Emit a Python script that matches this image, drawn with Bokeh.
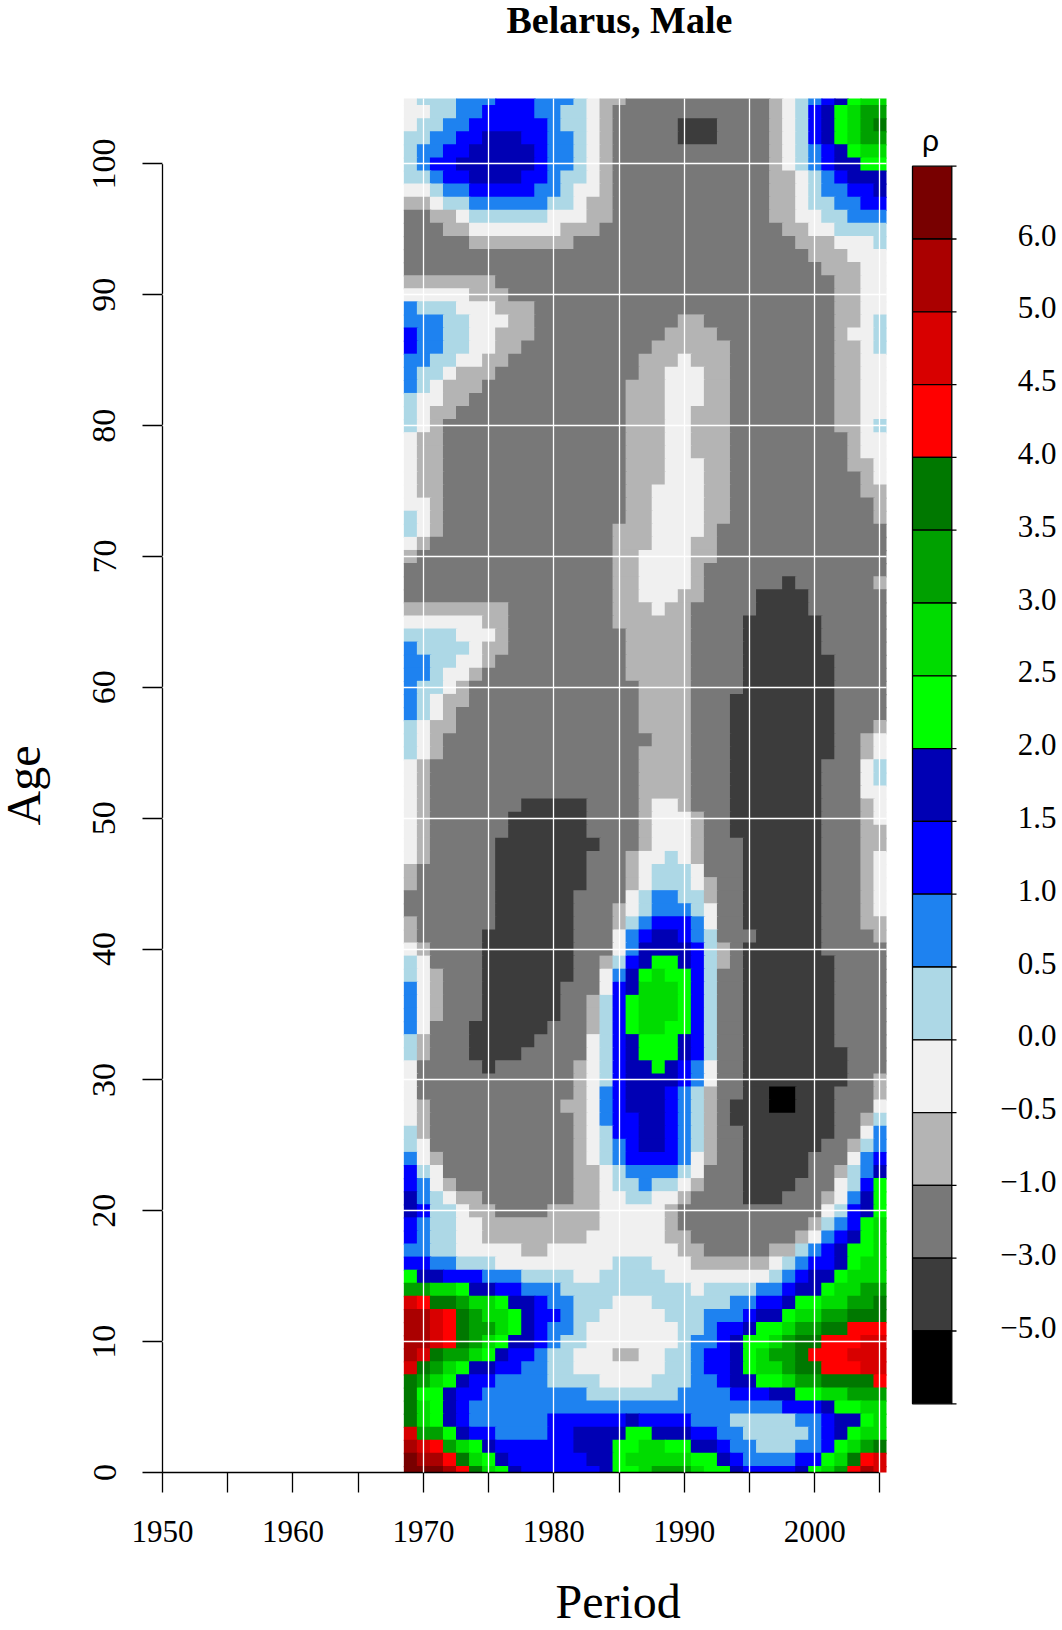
from bokeh.plotting import figure
from bokeh.layouts import row
from bokeh.models import ColumnDataSource, FixedTicker, Range1d, Title
from bokeh.core.properties import value
from bokeh.embed import file_html
from bokeh.resources import INLINE

# rho class of every cell: run-length strings (class letter + run length), one per age, 1969..2005
AGES_105_TO_80 = [
"w1 l3 m3 b3 m3 l1 w1 s2 g11 s1 w1 l1 m1 b1 n1 G1 H2",
"w2 l2 m2 b4 m2 l2 w1 s1 g12 s1 w1 l1 b1 n1 G1 H1 I2",
"w1 l2 m2 b6 m1 l2 w1 s1 g5 d3 g4 s1 w1 l1 b1 n1 G1 H1 I1 J1",
"l2 m2 b2 n3 b2 m2 l1 w1 s1 g5 d3 g4 s1 w1 l1 b1 n1 G1 H1 I2",
"l1 m2 b2 n5 b1 m2 l1 w1 s1 g12 s1 w1 l1 m1 b1 n1 G1 H2",
"l1 m1 b2 n6 b1 m2 l1 w1 s1 g12 s1 w1 l1 m1 b1 n2 G2",
"l2 m1 b2 n4 b2 m1 l2 w1 s1 g12 s2 w1 l1 m1 b1 n3",
"w2 l1 m2 b5 m2 l1 w2 s1 g12 s2 w1 l1 m2 b2 n1",
"s2 w1 l2 m6 l2 w1 s2 g12 s2 w1 l2 m2 b2",
"g2 s2 w1 l6 w3 s2 g12 s2 w2 l2 m3",
"g3 s2 w7 s3 g14 s2 w2 l4",
"g5 s8 g17 s3 w3 l1",
"g31 s3 w3",
"g32 s3 w2",
"s7 g26 s2 w2",
"w5 s3 g25 s2 w2",
"m1 l3 w3 s3 g23 s2 w2",
"m3 l2 w3 s2 g11 s2 g10 s2 w1 l1",
"b1 m2 l2 w2 s3 g10 s4 g9 s1 w2 l1",
"b1 m2 l2 w2 s2 g10 s6 g8 s2 w1 l1",
"m2 l2 w2 s2 g10 s3 w1 s3 g8 s2 w2",
"m1 l2 w1 s3 g11 s2 w3 s2 g8 s2 w2",
"m1 l1 w1 s3 g11 s3 w3 s2 g8 s2 w2",
"l1 w2 s2 g12 s3 w3 s2 g8 s2 w2",
"l1 w1 s2 g13 s3 w2 s3 g8 s2 w2",
"l1 w1 s1 g14 s3 w2 s3 g8 s2 w1 l1",
]
AGES_79_TO_53 = [
"w1 s2 g14 s3 w2 s3 g9 s1 w2",
"w1 s2 g14 s3 w2 s3 g9 s1 w2",
"w1 s2 g14 s3 w3 s2 g9 s2 w1",
"w1 s2 g14 s3 w3 s2 g10 s1 w1",
"w1 s2 g14 s2 w4 s2 g10 s2",
"w2 s1 g14 s2 w4 s2 g11 s1",
"l1 w1 s1 g14 s2 w4 s2 g11 s1",
"l1 w1 s1 g13 s3 w4 s1 g13",
"w1 s1 g14 s3 w3 s2 g13",
"s1 g15 s2 w4 s2 g13",
"g16 s2 w4 s1 g14",
"g16 s2 w4 s1 g6 d1 g6 s1",
"g16 s2 w3 s2 g4 d4 g6",
"s8 g8 s3 w1 s2 g5 d4 g6",
"w6 s2 g8 s6 g4 d6 g5",
"l4 w3 s1 g9 s5 g4 d6 g5",
"m1 l4 w1 s2 g9 s5 g4 d6 g5",
"m2 l2 w2 s1 g10 s5 g4 d7 g4",
"m2 l1 w2 s1 g11 s5 g4 d7 g4",
"m1 l2 w1 s1 g13 s4 g4 d7 g4",
"m1 l1 w1 s2 g13 s4 g3 d8 g4",
"m1 l1 w1 s1 g14 s4 g3 d8 g4",
"l1 w1 s2 g14 s4 g3 d8 g3 s1",
"l1 w1 s1 g16 s3 g3 d8 g2 s1 w1",
"l1 w1 s1 g15 s4 g3 d8 g2 s1 w1",
"w1 s1 g16 s4 g3 d7 g3 w1 l1",
"w1 s1 g16 s4 g3 d7 g3 w1 l1",
]
AGES_52_TO_27 = [
"w1 s1 g16 s4 g3 d7 g3 w2",
"w1 s1 g7 d5 g4 s1 w2 s1 g3 d7 g3 s1 w1",
"w1 s1 g6 d6 g4 s1 w3 s1 g2 d7 g3 s1 w1",
"w1 s1 g6 d6 g4 s1 w3 s1 g2 d7 g3 s2",
"w1 s1 g5 d8 g3 s1 w3 s1 g3 d6 g3 s2",
"w1 s1 g5 d7 g3 s1 w2 l1 w1 s1 g3 d6 g3 s1 w1",
"s1 g6 d7 g3 s1 w1 l3 w1 g3 d6 g3 s1 w1",
"s1 g6 d7 g3 s1 w1 l3 w1 s1 g2 d6 g3 s1 w1",
"g7 d6 g4 w1 l1 m2 l2 s1 g2 d6 g3 s1 w1",
"g7 d6 g3 s1 w1 l1 m3 l1 w1 g2 d6 g3 s1 w1",
"s1 g6 d6 g3 s1 l1 m1 b3 m1 w1 g2 d6 g3 s2",
"s1 g5 d7 g3 w1 m1 b1 n2 b1 m1 l1 g3 d5 g4 s1",
"w1 s1 g4 d7 g3 w1 m1 n4 b1 l1 s1 g1 d6 g5",
"l1 w1 g4 d7 g2 s1 l1 b1 n1 G2 n1 b1 l1 s1 g1 d7 g4",
"l1 w1 s1 g3 d7 g2 w1 m1 n1 G1 H1 G2 b1 l1 g2 d7 g4",
"m1 w1 s1 g3 d6 g3 w1 b1 n1 H3 G1 b1 l1 g2 d7 g4",
"m1 w1 s1 g3 d6 g2 s1 l1 b1 G1 H3 G1 b1 l1 g2 d7 g4",
"m1 w1 s1 g3 d6 g2 s1 l1 b1 G1 H3 G1 b1 l1 g2 d7 g4",
"m1 w1 g3 d6 g3 s1 l1 b1 G1 H2 G2 b1 l1 g2 d7 g4",
"l1 s1 g3 d5 g4 w1 l1 b1 n1 G3 n1 b1 l1 g2 d7 g4",
"l1 s1 g3 d4 g5 w1 l1 b1 n1 G3 n1 b1 l1 g2 d8 g3",
"w1 g5 d1 g6 s1 w1 l1 b1 n2 G1 n1 b1 m1 w1 g2 d8 g3",
"w1 g12 s1 w1 l1 b1 n4 b1 m1 w1 g2 d8 g2 s1",
"w1 g12 s1 w1 m1 b1 n3 b1 m1 l1 s1 g2 d2 k2 d3 g3 s1",
"w1 s1 g10 s2 w1 m1 b1 n3 b1 m1 l1 s1 g1 d3 k2 d3 g3 w1",
"w1 s1 g11 s1 w1 m1 b2 n2 b1 m1 l1 s1 g1 d8 g2 s1 l1",
]
AGES_26_TO_0 = [
"l1 s1 g11 s1 w1 l1 b2 n2 b1 m1 l1 s1 g2 d7 g2 w1 m1",
"l1 w1 g11 s1 w1 l1 m1 b1 n2 b1 m1 l1 s1 g2 d6 g2 s1 l1 m1",
"m1 w1 s1 g10 s1 w1 l1 m1 b4 m1 w1 s1 g2 d5 g3 w1 m1 b1",
"b1 l1 w1 g10 s2 w1 l1 m4 l1 w1 g3 d5 g2 s1 l1 m1 n1",
"b1 m1 w1 s1 g9 s2 w1 l2 m1 l2 w1 s1 g3 d4 g3 w1 l1 b1 G1",
"n1 m1 l1 w1 s2 g7 s2 w2 l2 w2 s1 g4 d3 g3 s1 w1 m1 n1 G1",
"n1 b1 l2 w1 s2 g4 s4 w5 s1 g11 w1 l1 b1 n1 G1",
"b1 m1 l2 w2 s9 w5 s1 g10 s1 l1 m1 b1 G1 H1",
"b1 m1 l2 w2 s8 w6 s2 g8 s1 w1 m1 b1 n1 G1 H1",
"m2 l2 w5 s2 w10 s2 g5 s2 l1 m1 b1 n1 G2 H1",
"b2 m2 l3 w9 l3 w3 s6 w1 l1 m1 b2 n1 G1 H2",
"G1 n2 b3 m3 l4 w2 l5 w8 l1 m1 b1 n2 G1 H3",
"I2 H2 G1 n2 b2 m3 l10 w1 l4 m2 b1 n2 G1 H2 I2",
"S1 R1 J2 I1 H2 G1 n2 b1 m2 l3 w3 l6 m2 b2 n1 G2 H2 I2 J1",
"T2 S1 R1 J1 I1 H2 G1 n1 b2 m1 l2 w5 l3 m3 b1 n2 G1 H2 I2 J3",
"T2 S1 R1 J1 I2 H1 G1 n1 b1 m2 l1 w7 l2 m1 b2 n1 G2 H1 I2 J2 R3",
"T2 S1 R1 J1 I1 H1 G1 n2 b1 m1 l2 w7 l1 m2 b1 n1 G2 H1 I1 J2 R3 S2",
"T1 S1 J1 I2 H1 G1 n1 b2 m1 l2 w3 s2 w2 l2 m1 b2 n1 G1 H1 I2 J1 R3 S3",
"S1 J1 I1 H1 G1 n2 b2 m2 l2 w7 l2 m1 b2 n1 G1 H2 I1 J2 R3 S2",
"J1 I1 H1 G1 n1 b2 m4 l4 w4 l3 m2 b1 n2 G2 H1 I2 J4 R1",
"J1 G2 n1 b2 m8 l7 m4 b3 n2 G2 H2 I3",
"J1 H1 G1 n1 b1 m24 b3 n1 G2 H2",
"J1 H1 G1 n1 b1 m6 b6 n1 b4 m3 l5 m2 b1 n2 G1 H1",
"S1 I2 G1 n1 b2 m4 b2 n4 G2 n3 b2 m2 l5 m1 b1 n1 G1 H2",
"T1 S1 R1 I1 H1 G1 n1 b6 n3 G2 H2 G2 n2 b1 m2 l3 m2 b1 G1 H1 I1 J1",
"U1 T2 R1 J1 H1 G1 n1 b6 n2 G1 H5 G2 n1 b1 m4 b2 G1 H1 J1 R1 S1",
"U3 T1 R1 J1 H1 G1 n1 b6 n1 G2 H1 I3 H1 G2 n1 b4 n1 G1 H1 I1 R1 T1 S1",
]
FIRST_YEAR = 1969
TOP_AGE = 105

# colour key, listed top to bottom
KEY_CLASSES = list("UTSRJIHGnbmlwsgdk")
KEY_COLOURS = ["#780000", "#AA0000", "#D80000", "#FF0000", "#007800", "#00A000", "#00DC00", "#00FF00",
               "#0000B4", "#0000FF", "#1E82F0", "#ADD8E6", "#F0F0F0", "#B4B4B4", "#787878", "#3C3C3C", "#000000"]
KEY_LABELS = ["6.0", "5.0", "4.5", "4.0", "3.5", "3.0", "2.5", "2.0", "1.5", "1.0", "0.5", "0.0",
              "\u22120.5", "\u22121.0", "\u22123.0", "\u22125.0"]

X_TICKS = list(range(1950, 2006, 5))
X_LABELS = {y: (str(y) if y % 10 == 0 else "") for y in X_TICKS}
Y_TICKS = list(range(0, 101, 10))
X_GRID = list(range(1970, 2006, 5))
Y_GRID = list(range(10, 101, 10))

SERIF = "Liberation Serif"
COL = dict(zip(KEY_CLASSES, KEY_COLOURS))
OVER = 0.1   # each run slightly under-paints the next, so no seams show between neighbours

rows = AGES_105_TO_80 + AGES_79_TO_53 + AGES_52_TO_27 + AGES_26_TO_0
assert len(rows) == TOP_AGE + 1, len(rows)
L, R, B, T, C = [], [], [], [], []
for i, text in enumerate(rows):
    age = TOP_AGE - i
    col = 0
    for tok in text.split():
        n = int(tok[1:])
        L.append(FIRST_YEAR + col - 0.5)
        R.append(FIRST_YEAR + col + n - 0.5 + OVER)
        B.append(age - 0.5 - OVER)
        T.append(age + 0.5)
        C.append(COL[tok[0]])
        col += n
    assert col == 37, (age, col)

W, H = 893, 1630
BL, BR, BT, BB = 162, 7, 98, 158
x0, x1 = 1950, 2005.5

p = figure(width=W, height=H, x_range=Range1d(x0, x1), y_range=Range1d(0, TOP_AGE),
           output_backend="svg", toolbar_location=None,
           min_border_left=BL, min_border_right=BR, min_border_top=BT, min_border_bottom=BB)
p.outline_line_color = None
p.quad(left="l", right="r", bottom="b", top="t", fill_color="c", line_color=None,
       source=ColumnDataSource(dict(l=L, r=R, b=B, t=T, c=C)))

for ax in (p.xaxis[0], p.yaxis[0]):
    ax.axis_line_color = "black"
    ax.axis_line_width = 1.3
    ax.major_tick_line_color = "black"
    ax.major_tick_line_width = 1.3
    ax.major_tick_in = 0
    ax.major_tick_out = 20
    ax.minor_tick_line_color = None
    ax.major_label_text_font = SERIF
    ax.major_label_text_color = "black"
p.xaxis.ticker = FixedTicker(ticks=X_TICKS)
p.xaxis.major_label_overrides = X_LABELS
p.xaxis.bounds = (1950, 2005)
p.xaxis.major_label_standoff = 28
p.xaxis.major_label_text_font_size = "31px"
p.yaxis.ticker = FixedTicker(ticks=Y_TICKS)
p.yaxis.bounds = (0, 100)
p.yaxis.major_label_orientation = "parallel"
p.yaxis.major_label_standoff = 27
p.yaxis.major_label_text_font_size = "34px"

p.xgrid.ticker = FixedTicker(ticks=X_GRID)
p.ygrid.ticker = FixedTicker(ticks=Y_GRID)
for g in (p.xgrid, p.ygrid):
    g.grid_line_color = "white"
    g.grid_line_width = 1.3
    g.level = "overlay"

# blank titles only hold the real ones away from the frame
p.add_layout(Title(text=" ", text_font_size="1px", standoff=59), "above")
p.add_layout(Title(text="Belarus, Male", align="left", vertical_align="top", offset=344, standoff=-12, text_font=SERIF,
                   text_font_style="bold", text_font_size="38px", text_color="black"), "above")
p.add_layout(Title(text=" ", text_font_size="1px", standoff=25), "below")
p.add_layout(Title(text="Period", align="left", offset=393, standoff=0, text_font=SERIF,
                   text_font_style="normal", text_font_size="48px", text_color="black"), "below")
p.add_layout(Title(text=" ", text_font_size="1px", standoff=47), "left")
p.add_layout(Title(text="Age", align="center", vertical_align="top", standoff=-22, text_font=SERIF,
                   text_font_style="normal", text_font_size="48px", text_color="black"), "left")

# colour key, its scale in page pixels
KW = 169
key_top, key_step = 165.7, 72.8
kx0, kx1, ktick = 912, 951.3, 956
k = figure(width=KW, height=H, x_range=Range1d(W, W + KW), y_range=Range1d(H - BB, BT),
           output_backend="svg", toolbar_location=None,
           min_border_left=0, min_border_right=0, min_border_top=BT, min_border_bottom=BB)
k.axis.visible = False
k.grid.visible = False
k.outline_line_color = None
tops = [key_top + i * key_step for i in range(len(KEY_COLOURS))]
k.quad(left=[kx0] * len(tops), right=[kx1] * len(tops), top=tops, bottom=[t + key_step for t in tops],
       fill_color=KEY_COLOURS, line_color="black", line_width=1.3)
edges = tops + [tops[-1] + key_step]
k.segment(x0=[kx1] * len(edges), x1=[ktick] * len(edges), y0=edges, y1=edges, line_color="black", line_width=1.3)
k.text(x=[1056] * len(KEY_LABELS), y=[e - 4 for e in edges[1:-1]], text=KEY_LABELS, text_font=value(SERIF),
       text_font_size="31px", text_align="right", text_baseline="middle", text_color="black")
k.text(x=[930], y=[140], text=["\u03c1"], text_font=value("Liberation Sans"), text_font_size="30px",
       text_align="center", text_baseline="middle", text_color="black")

open("out.html", "w").write(file_html(row(p, k), INLINE))
